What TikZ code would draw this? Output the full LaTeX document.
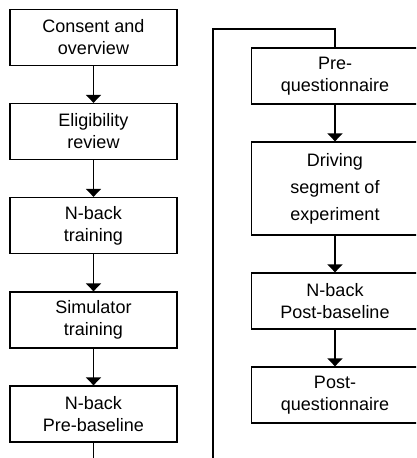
\documentclass[tikz,border=0pt]{standalone}
\usepackage{fontspec}
\setmainfont{Liberation Sans}
\usepackage{tikz}
\usetikzlibrary{arrows.meta}

\begin{document}
\begin{tikzpicture}[x=1pt, y=-1pt,
	box/.style={draw, line width=1.3pt, minimum width=167pt, minimum height=56pt, align=center, inner sep=0pt, font=\fontsize{18}{22}\selectfont},
	line/.style={line width=1.3pt},
	flow/.style={line, -{Triangle[width=15pt,length=8pt]}}]
	\useasboundingbox (0, 0) rectangle (416, 458);
	\clip (0, 0) rectangle (416, 458);
	\node [box] (consent) at (93.5, 37.5) {Consent and\\overview};
	\node [box] (elig) at (93.5, 131.5) {Eligibility\\review};
	\node [box] (nbtrain) at (93.5, 225.5) {N-back\\training};
	\node [box] (simtrain) at (93.5, 320) {Simulator\\training};
	\node [box] (nbpre) at (93.5, 414) {N-back\\Pre-baseline};
	\node [box] (preq) at (335, 76) {Pre-\\questionnaire};
	\node [box, minimum height=93pt, font=\fontsize{18}{27}\selectfont] (drive) at (335, 188.5) {Driving\\segment of\\experiment};
	\node [box] (nbpost) at (335, 301) {N-back\\Post-baseline};
	\node [box] (postq) at (335, 395) {Post-\\questionnaire};
	\coordinate (loopa) at (213, 470);
	\coordinate (loopb) at (213, 29);
	\draw [flow] (consent) -- (elig);
	\draw [flow] (elig) -- (nbtrain);
	\draw [flow] (nbtrain) -- (simtrain);
	\draw [flow] (simtrain) -- (nbpre);
	\draw [line] (nbpre.south) |- (loopa) -- (loopb) -| (preq.north);
	\draw [flow] (preq) -- (drive);
	\draw [flow] (drive) -- (nbpost);
	\draw [flow] (nbpost) -- (postq);
\end{tikzpicture}
\end{document}
